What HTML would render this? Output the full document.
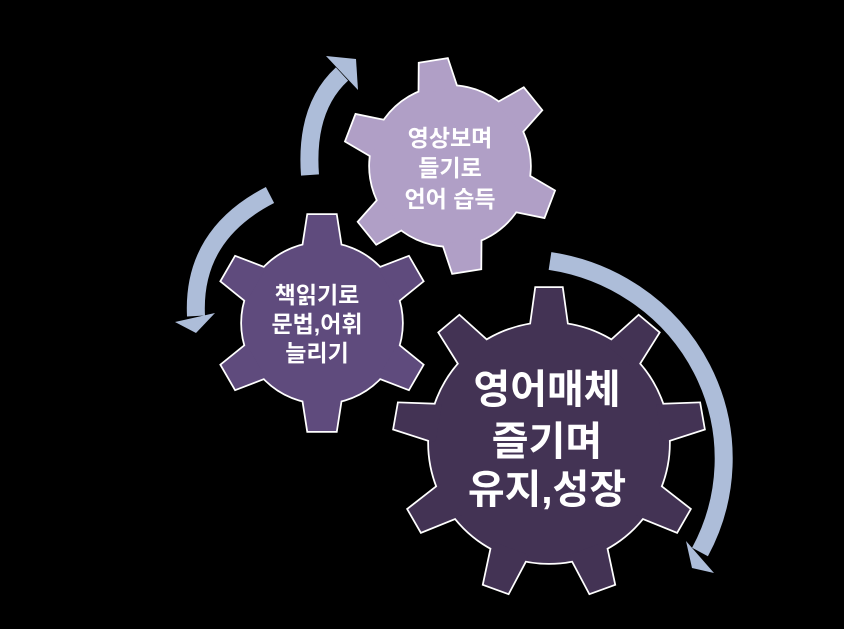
<!DOCTYPE html>
<html><head><meta charset="utf-8"><style>
html,body{margin:0;padding:0;background:#000;}
svg{display:block}
text{font-family:"Liberation Sans","Noto Sans CJK KR","NanumGothic",sans-serif;font-weight:bold;fill:#fff;text-anchor:middle}
</style></head><body>
<svg width="844" height="629" viewBox="0 0 844 629" xmlns="http://www.w3.org/2000/svg">
<rect width="844" height="629" fill="#000"/>
<defs>
<g id="tb"><polygon points="-19,-112 -13,-155 13,-155 19,-112"/></g>
<g id="tm"><polygon points="-19,-76 -14,-108 14,-108 19,-76"/></g>
<g id="ts"><polygon points="-19,-76 -14,-106 14,-106 19,-76"/></g>
<g id="gb"><circle r="120"/>
<use href="#tb"/><use href="#tb" transform="rotate(40)"/><use href="#tb" transform="rotate(80)"/><use href="#tb" transform="rotate(120)"/><use href="#tb" transform="rotate(160)"/><use href="#tb" transform="rotate(200)"/><use href="#tb" transform="rotate(240)"/><use href="#tb" transform="rotate(280)"/><use href="#tb" transform="rotate(320)"/></g>
<g id="gm"><circle r="80"/>
<use href="#tm"/><use href="#tm" transform="rotate(60)"/><use href="#tm" transform="rotate(120)"/><use href="#tm" transform="rotate(180)"/><use href="#tm" transform="rotate(240)"/><use href="#tm" transform="rotate(300)"/></g>
<g id="gs"><circle r="80"/>
<use href="#ts"/><use href="#ts" transform="rotate(60)"/><use href="#ts" transform="rotate(120)"/><use href="#ts" transform="rotate(180)"/><use href="#ts" transform="rotate(240)"/><use href="#ts" transform="rotate(300)"/></g>
</defs>

<!-- arrows -->
<g fill="none" stroke="#adbdd9" stroke-width="18">
<path d="M310,175 Q305,108 342,74"/>
<path d="M270,195 Q192,235 196,316"/>
<path d="M550,261 A205 200 0 0 1 700,552"/>
</g>
<g fill="#adbdd9">
<polygon points="326,56 356,59 358,90"/>
<polygon points="175,322 215,313 196,333"/>
<polygon points="686,541 714,573 692,568"/>
</g>

<!-- small gear -->
<g transform="translate(450,166) rotate(-9)">
<use href="#gs" fill="#fff" stroke="#fff" stroke-width="3.5"/>
<use href="#gs" fill="#b09fc6"/>
</g>
<!-- medium gear -->
<g transform="translate(322,323)">
<use href="#gm" fill="#fff" stroke="#fff" stroke-width="3.5"/>
<use href="#gm" fill="#5f4b7d"/>
</g>
<!-- big gear -->
<g transform="translate(549,443)">
<use href="#gb" fill="#fff" stroke="#fff" stroke-width="3.5"/>
<use href="#gb" fill="#433354"/>
</g>

<g font-size="23">
<text x="450" y="146">영상보며</text>
<text x="450" y="176">들기로</text>
<text x="450" y="207">언어 습득</text>
</g>
<g font-size="23">
<text x="317" y="303">책읽기로</text>
<text x="317" y="332">문법,어휘</text>
<text x="317" y="361">늘리기</text>
</g>
<g font-size="40">
<text x="547" y="403">영어매체</text>
<text x="547" y="455">즐기며</text>
<text x="547" y="503">유지,성장</text>
</g>
</svg>
</body></html>
